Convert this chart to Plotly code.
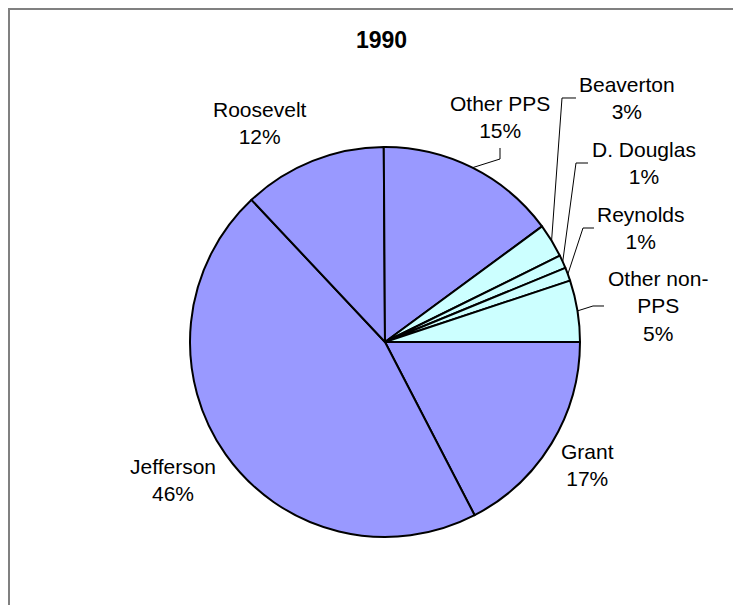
import math
import plotly.graph_objects as go

# ---- data ----
title_text = "1990"
labels = ["Grant", "Jefferson", "Roosevelt", "Other PPS", "Beaverton",
          "D. Douglas", "Reynolds", "Other non-PPS"]
values = [17.4, 45.6, 11.9, 15.0, 2.8, 1.1, 1.1, 5.1]
label_text = ["Grant", "Jefferson", "Roosevelt", "Other PPS", "Beaverton",
              "D. Douglas", "Reynolds", "Other non-<br>PPS"]
group = ["PPS", "PPS", "PPS", "PPS", "non", "non", "non", "non"]

# ---- layout constants (page pixels; page body has an 8px margin) ----
OFF = 8
W, H = 741, 605
CX, CY, R = 385, 342, 195
FONT = "Arial, Liberation Sans, sans-serif"
color_map = {"PPS": "#9999FF", "non": "#CCFFFF"}

# label centers and leader elbows (page pixels)
label_pos = {
    "Grant": (587, 465),
    "Jefferson": (173, 480),
    "Roosevelt": (260, 123),
    "Other PPS": (500, 117),
    "Beaverton": (627, 98),
    "D. Douglas": (644, 163),
    "Reynolds": (641, 228),
    "Other non-PPS": (658, 306),
}
leader_elbows = {
    "Other PPS": [(500, 159), (500, 148)],
    "Beaverton": [(562, 98), (576, 98)],
    "D. Douglas": [(576, 163), (588, 163)],
    "Reynolds": [(583, 228), (594, 228)],
    "Other non-PPS": [(593, 306), (604, 306)],
}


def px(x):
    return (x - OFF) / W


def py(y):
    return 1 - (y - OFF) / H


fig = go.Figure(go.Pie(
    labels=labels,
    values=values,
    sort=False,
    direction="clockwise",
    rotation=90,
    marker=dict(colors=[color_map[g] for g in group],
                line=dict(color="black", width=2)),
    textinfo="none",
    hoverinfo="label+percent",
    showlegend=False,
    domain=dict(x=[px(CX - R), px(CX + R)], y=[py(CY + R), py(CY - R)]),
))

total = sum(values)
annotations = []
shapes = []
cum = 0.0
for lab, txt, v in zip(labels, label_text, values):
    mid = (cum + v / 2) / total
    cum += v
    pct = round(v / total * 100)
    lx, ly = label_pos[lab]
    annotations.append(dict(
        x=px(lx), y=py(ly), xref="paper", yref="paper",
        text=f"{txt}<br>{pct}%", showarrow=False,
        xanchor="center", yanchor="middle", align="center",
        font=dict(family=FONT, size=21, color="black"),
    ))
    if lab in leader_elbows:
        ang = mid * 2 * math.pi  # clockwise from 3 o'clock (screen y down)
        sx = CX + R * math.cos(ang)
        sy = CY + R * math.sin(ang)
        pts = [(sx, sy)] + leader_elbows[lab]
        path = "M " + " L ".join(f"{px(a):.5f},{py(b):.5f}" for a, b in pts)
        shapes.append(dict(type="path", xref="paper", yref="paper", path=path,
                           line=dict(color="black", width=1)))

annotations.append(dict(
    x=px(381), y=py(40), xref="paper", yref="paper", text=f"<b>{title_text}</b>",
    showarrow=False, xanchor="center", yanchor="middle",
    font=dict(family=FONT, size=23, color="black"),
))

# outer chart frame (partially cut off at right/bottom)
shapes.append(dict(type="rect", xref="paper", yref="paper",
                   x0=px(8.5), x1=1.3, y0=-0.3, y1=py(8.5),
                   line=dict(color="#808080", width=3), fillcolor="rgba(0,0,0,0)"))

fig.update_layout(
    width=W, height=H,
    margin=dict(l=0, r=0, t=0, b=0),
    paper_bgcolor="white", plot_bgcolor="white",
    annotations=annotations,
    shapes=shapes,
    font=dict(family=FONT),
)

fig.write_html("out.html")
